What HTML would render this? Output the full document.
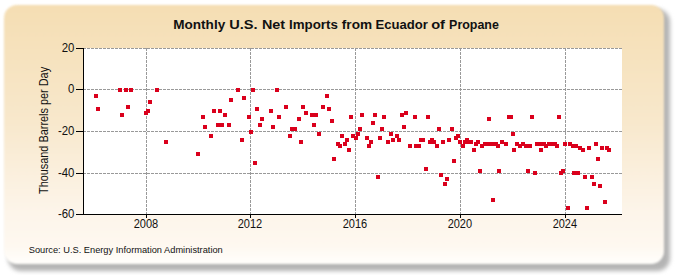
<!DOCTYPE html>
<html><head><meta charset="utf-8"><style>
html,body{margin:0;padding:0;background:#fff;width:675px;height:275px;overflow:hidden}
.shadow{position:absolute;left:8px;top:8.5px;width:662px;height:262px;border-radius:13px;background:#b4b4b4;filter:blur(2.1px)}
.box{position:absolute;left:3.5px;top:4.5px;width:660.5px;height:259px;border-radius:13px;
background:linear-gradient(to bottom,#F5DEB3 0%,#F8E8CC 45%,#FDF5EA 80%,#FEF8F0 93%,#FFFDF9 98%,#FFFEFB 100%);filter:blur(1.1px)}
svg{position:absolute;left:0;top:0}
text{font-family:"Liberation Sans",sans-serif;fill:#111}
</style></head><body>
<div class="shadow"></div><div class="box"></div>
<svg width="675" height="275" viewBox="0 0 675 275">
<rect x="84" y="48" width="538" height="166" fill="#fff"/>
<g stroke="#999" stroke-width="1" stroke-dasharray="3,1"><line x1="84" y1="48.5" x2="622" y2="48.5" stroke-dashoffset="1"/><line x1="84" y1="89.5" x2="622" y2="89.5" stroke-dashoffset="1"/><line x1="84" y1="131.5" x2="622" y2="131.5" stroke-dashoffset="1"/><line x1="84" y1="173.5" x2="622" y2="173.5" stroke-dashoffset="1"/><line x1="146.5" y1="48" x2="146.5" y2="214"/><line x1="250.5" y1="48" x2="250.5" y2="214"/><line x1="355.5" y1="48" x2="355.5" y2="214"/><line x1="460.5" y1="48" x2="460.5" y2="214"/><line x1="565.5" y1="48" x2="565.5" y2="214"/></g>
<g fill="#DA001C"><rect x="94" y="94" width="4" height="4"/><rect x="96" y="107" width="4" height="4"/><rect x="118" y="88" width="4" height="4"/><rect x="120" y="113" width="4" height="4"/><rect x="124" y="88" width="4" height="4"/><rect x="126" y="105" width="4" height="4"/><rect x="129" y="88" width="4" height="4"/><rect x="144" y="111" width="4" height="4"/><rect x="146" y="109" width="4" height="4"/><rect x="148" y="100" width="4" height="4"/><rect x="155" y="88" width="4" height="4"/><rect x="164" y="140" width="4" height="4"/><rect x="196" y="152" width="4" height="4"/><rect x="201" y="115" width="4" height="4"/><rect x="203" y="125" width="4" height="4"/><rect x="209" y="134" width="4" height="4"/><rect x="212" y="109" width="4" height="4"/><rect x="216" y="123" width="4" height="4"/><rect x="218" y="109" width="4" height="4"/><rect x="220" y="123" width="4" height="4"/><rect x="223" y="113" width="4" height="4"/><rect x="227" y="123" width="4" height="4"/><rect x="229" y="98" width="4" height="4"/><rect x="236" y="88" width="4" height="4"/><rect x="240" y="138" width="4" height="4"/><rect x="242" y="96" width="4" height="4"/><rect x="247" y="115" width="4" height="4"/><rect x="249" y="130" width="4" height="4"/><rect x="251" y="88" width="4" height="4"/><rect x="253" y="161" width="4" height="4"/><rect x="255" y="107" width="4" height="4"/><rect x="258" y="123" width="4" height="4"/><rect x="260" y="117" width="4" height="4"/><rect x="269" y="109" width="4" height="4"/><rect x="271" y="125" width="4" height="4"/><rect x="275" y="88" width="4" height="4"/><rect x="277" y="115" width="4" height="4"/><rect x="284" y="105" width="4" height="4"/><rect x="288" y="134" width="4" height="4"/><rect x="290" y="127" width="4" height="4"/><rect x="293" y="127" width="4" height="4"/><rect x="297" y="117" width="4" height="4"/><rect x="299" y="140" width="4" height="4"/><rect x="301" y="105" width="4" height="4"/><rect x="304" y="111" width="4" height="4"/><rect x="310" y="113" width="4" height="4"/><rect x="312" y="123" width="4" height="4"/><rect x="314" y="113" width="4" height="4"/><rect x="317" y="132" width="4" height="4"/><rect x="321" y="105" width="4" height="4"/><rect x="325" y="94" width="4" height="4"/><rect x="327" y="107" width="4" height="4"/><rect x="330" y="119" width="4" height="4"/><rect x="332" y="157" width="4" height="4"/><rect x="336" y="142" width="4" height="4"/><rect x="338" y="144" width="4" height="4"/><rect x="340" y="134" width="4" height="4"/><rect x="343" y="142" width="4" height="4"/><rect x="345" y="138" width="4" height="4"/><rect x="347" y="148" width="4" height="4"/><rect x="349" y="115" width="4" height="4"/><rect x="351" y="134" width="4" height="4"/><rect x="354" y="136" width="4" height="4"/><rect x="356" y="132" width="4" height="4"/><rect x="358" y="127" width="4" height="4"/><rect x="360" y="113" width="4" height="4"/><rect x="365" y="136" width="4" height="4"/><rect x="367" y="144" width="4" height="4"/><rect x="369" y="140" width="4" height="4"/><rect x="371" y="121" width="4" height="4"/><rect x="373" y="113" width="4" height="4"/><rect x="376" y="175" width="4" height="4"/><rect x="378" y="136" width="4" height="4"/><rect x="380" y="127" width="4" height="4"/><rect x="382" y="115" width="4" height="4"/><rect x="386" y="140" width="4" height="4"/><rect x="389" y="132" width="4" height="4"/><rect x="391" y="138" width="4" height="4"/><rect x="395" y="134" width="4" height="4"/><rect x="397" y="138" width="4" height="4"/><rect x="400" y="113" width="4" height="4"/><rect x="402" y="125" width="4" height="4"/><rect x="404" y="111" width="4" height="4"/><rect x="408" y="144" width="4" height="4"/><rect x="413" y="115" width="4" height="4"/><rect x="414" y="144" width="4" height="4"/><rect x="417" y="144" width="4" height="4"/><rect x="419" y="138" width="4" height="4"/><rect x="421" y="138" width="4" height="4"/><rect x="424" y="167" width="4" height="4"/><rect x="426" y="115" width="4" height="4"/><rect x="428" y="140" width="4" height="4"/><rect x="430" y="138" width="4" height="4"/><rect x="432" y="140" width="4" height="4"/><rect x="435" y="144" width="4" height="4"/><rect x="437" y="127" width="4" height="4"/><rect x="439" y="173" width="4" height="4"/><rect x="441" y="140" width="4" height="4"/><rect x="443" y="182" width="4" height="4"/><rect x="445" y="177" width="4" height="4"/><rect x="447" y="138" width="4" height="4"/><rect x="450" y="127" width="4" height="4"/><rect x="452" y="159" width="4" height="4"/><rect x="454" y="136" width="4" height="4"/><rect x="456" y="134" width="4" height="4"/><rect x="458" y="140" width="4" height="4"/><rect x="461" y="144" width="4" height="4"/><rect x="463" y="140" width="4" height="4"/><rect x="465" y="138" width="4" height="4"/><rect x="467" y="140" width="4" height="4"/><rect x="469" y="140" width="4" height="4"/><rect x="472" y="148" width="4" height="4"/><rect x="474" y="142" width="4" height="4"/><rect x="476" y="140" width="4" height="4"/><rect x="478" y="169" width="4" height="4"/><rect x="480" y="144" width="4" height="4"/><rect x="483" y="142" width="4" height="4"/><rect x="485" y="142" width="4" height="4"/><rect x="487" y="117" width="4" height="4"/><rect x="489" y="142" width="4" height="4"/><rect x="491" y="198" width="4" height="4"/><rect x="492" y="142" width="4" height="4"/><rect x="494" y="142" width="4" height="4"/><rect x="496" y="144" width="4" height="4"/><rect x="497" y="169" width="4" height="4"/><rect x="500" y="140" width="4" height="4"/><rect x="504" y="142" width="4" height="4"/><rect x="507" y="115" width="4" height="4"/><rect x="509" y="115" width="4" height="4"/><rect x="511" y="132" width="4" height="4"/><rect x="512" y="148" width="4" height="4"/><rect x="515" y="142" width="4" height="4"/><rect x="518" y="144" width="4" height="4"/><rect x="521" y="142" width="4" height="4"/><rect x="524" y="144" width="4" height="4"/><rect x="526" y="169" width="4" height="4"/><rect x="528" y="144" width="4" height="4"/><rect x="530" y="115" width="4" height="4"/><rect x="533" y="171" width="4" height="4"/><rect x="535" y="142" width="4" height="4"/><rect x="538" y="142" width="4" height="4"/><rect x="539" y="148" width="4" height="4"/><rect x="542" y="142" width="4" height="4"/><rect x="544" y="144" width="4" height="4"/><rect x="547" y="142" width="4" height="4"/><rect x="550" y="142" width="4" height="4"/><rect x="553" y="142" width="4" height="4"/><rect x="555" y="144" width="4" height="4"/><rect x="557" y="115" width="4" height="4"/><rect x="559" y="171" width="4" height="4"/><rect x="561" y="169" width="4" height="4"/><rect x="563" y="142" width="4" height="4"/><rect x="566" y="206" width="4" height="4"/><rect x="568" y="142" width="4" height="4"/><rect x="571" y="144" width="4" height="4"/><rect x="572" y="171" width="4" height="4"/><rect x="574" y="144" width="4" height="4"/><rect x="576" y="171" width="4" height="4"/><rect x="578" y="146" width="4" height="4"/><rect x="581" y="148" width="4" height="4"/><rect x="583" y="175" width="4" height="4"/><rect x="585" y="206" width="4" height="4"/><rect x="587" y="146" width="4" height="4"/><rect x="590" y="175" width="4" height="4"/><rect x="592" y="182" width="4" height="4"/><rect x="594" y="142" width="4" height="4"/><rect x="596" y="157" width="4" height="4"/><rect x="598" y="184" width="4" height="4"/><rect x="600" y="146" width="4" height="4"/><rect x="603" y="200" width="4" height="4"/><rect x="605" y="146" width="4" height="4"/><rect x="607" y="148" width="4" height="4"/></g>
<g stroke="#000" stroke-width="1">
<line x1="83.5" y1="48" x2="83.5" y2="215"/>
<line x1="83" y1="214.5" x2="622" y2="214.5"/>
<line x1="76" y1="48.5" x2="83" y2="48.5"/><line x1="76" y1="89.5" x2="83" y2="89.5"/><line x1="76" y1="131.5" x2="83" y2="131.5"/><line x1="76" y1="173.5" x2="83" y2="173.5"/><line x1="76" y1="214.5" x2="83" y2="214.5"/><line x1="146.5" y1="215" x2="146.5" y2="218"/><line x1="250.5" y1="215" x2="250.5" y2="218"/><line x1="355.5" y1="215" x2="355.5" y2="218"/><line x1="460.5" y1="215" x2="460.5" y2="218"/><line x1="565.5" y1="215" x2="565.5" y2="218"/>
</g>
<text x="173.22" y="28.6" textLength="52.00" lengthAdjust="spacingAndGlyphs" style="font-size:13.5px;font-weight:bold">Monthly</text><text x="229.19" y="28.6" textLength="28.37" lengthAdjust="spacingAndGlyphs" style="font-size:13.5px;font-weight:bold">U.S.</text><text x="261.97" y="28.6" textLength="23.18" lengthAdjust="spacingAndGlyphs" style="font-size:13.5px;font-weight:bold">Net</text><text x="289.04" y="28.6" textLength="48.87" lengthAdjust="spacingAndGlyphs" style="font-size:13.5px;font-weight:bold">Imports</text><text x="341.85" y="28.6" textLength="30.23" lengthAdjust="spacingAndGlyphs" style="font-size:13.5px;font-weight:bold">from</text><text x="375.45" y="28.6" textLength="52.51" lengthAdjust="spacingAndGlyphs" style="font-size:13.5px;font-weight:bold">Ecuador</text><text x="431.16" y="28.6" textLength="13.84" lengthAdjust="spacingAndGlyphs" style="font-size:13.5px;font-weight:bold">of</text><text x="449.09" y="28.6" textLength="49.78" lengthAdjust="spacingAndGlyphs" style="font-size:13.5px;font-weight:bold">Propane</text><text x="61.71" y="52.10" textLength="12.69" lengthAdjust="spacingAndGlyphs" style="font-size:12.4px">20</text><text x="68.04" y="93.10" textLength="6.35" lengthAdjust="spacingAndGlyphs" style="font-size:12.4px">0</text><text x="57.92" y="135.10" textLength="16.49" lengthAdjust="spacingAndGlyphs" style="font-size:12.4px">-20</text><text x="57.92" y="177.10" textLength="16.49" lengthAdjust="spacingAndGlyphs" style="font-size:12.4px">-40</text><text x="57.92" y="218.10" textLength="16.49" lengthAdjust="spacingAndGlyphs" style="font-size:12.4px">-60</text><text x="133.64" y="227.7" textLength="24.57" lengthAdjust="spacingAndGlyphs" style="font-size:12.4px">2008</text><text x="237.64" y="227.7" textLength="24.57" lengthAdjust="spacingAndGlyphs" style="font-size:12.4px">2012</text><text x="342.64" y="227.7" textLength="24.57" lengthAdjust="spacingAndGlyphs" style="font-size:12.4px">2016</text><text x="447.65" y="227.7" textLength="24.46" lengthAdjust="spacingAndGlyphs" style="font-size:12.4px">2020</text><text x="552.65" y="227.7" textLength="24.34" lengthAdjust="spacingAndGlyphs" style="font-size:12.4px">2024</text><text transform="translate(47.8,193.80) rotate(-90)" x="-0.23" y="0" textLength="127.10" lengthAdjust="spacingAndGlyphs" style="font-size:12px">Thousand Barrels per Day</text><text x="28.76" y="252.9" textLength="194.00" lengthAdjust="spacingAndGlyphs" style="font-size:9.5px">Source: U.S. Energy Information Administration</text>
</svg>
</body></html>
